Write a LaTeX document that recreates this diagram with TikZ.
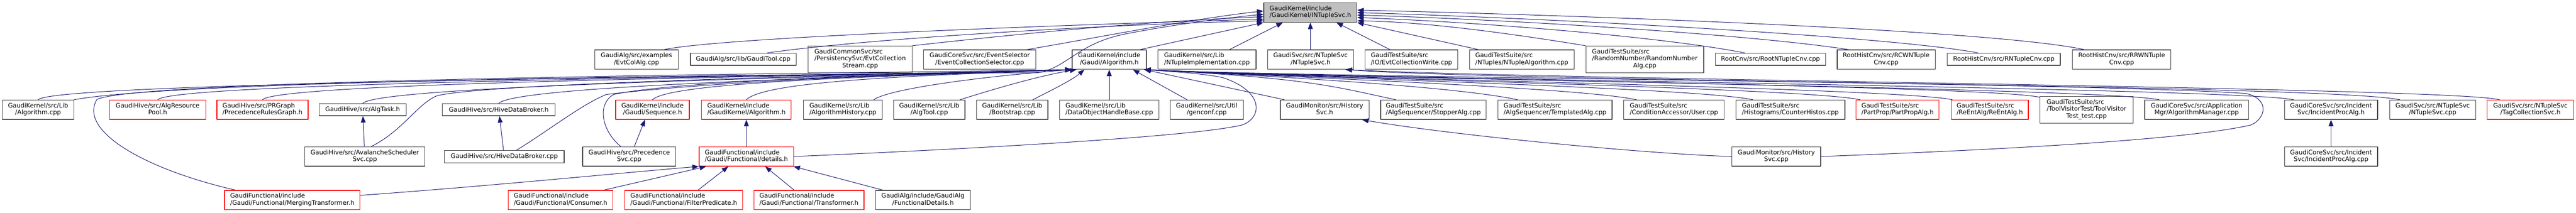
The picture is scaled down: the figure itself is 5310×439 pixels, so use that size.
\documentclass[tikz,border=0pt]{standalone}
\usepackage{fontspec}
\setmainfont{DejaVu Sans}
\usetikzlibrary{arrows.meta}
\definecolor{edgecol}{HTML}{191970}
\definecolor{rootfill}{HTML}{BFBFBF}
\newcommand{\lbtwo}[2]{\begin{tabular}{@{}l@{}}#1\\\multicolumn{1}{@{}c@{}}{#2}\end{tabular}}
\newcommand{\lbthree}[3]{\begin{tabular}{@{}l@{}}#1\\#2\\\multicolumn{1}{@{}c@{}}{#3}\end{tabular}}
\begin{document}
\begin{tikzpicture}[x=0.75pt, y=-0.75pt, >={Triangle[length=10pt,width=7.5pt]}, line join=round,
	font=\fontsize{9.6}{10.5}\selectfont,
	nd/.style={draw=black!75, line width=1pt, fill=white, inner sep=0pt},
	rednd/.style={nd, draw=red},
	rootnd/.style={nd, fill=rootfill},
	bw/.style={minimum width=#1*0.75pt},
	hone/.style={minimum height=18.75pt},
	htwo/.style={minimum height=30pt},
	hthree/.style={minimum height=41.25pt},
	edge/.style={->, draw=edgecol, line width=0.8pt}]
	\useasboundingbox (0,0) rectangle (5310,439);
	\node[rootnd, bw=192, htwo] (intuple) at (2701,26) {\lbtwo{GaudiKernel/include}{/GaudiKernel/INTupleSvc.h}};
	% row 1
	\node[nd, bw=172, htwo] (evtcolalg) at (1312,123) {\lbtwo{GaudiAlg/src/examples}{/EvtColAlg.cpp}};
	\node[nd, bw=218, hone] (gauditool) at (1532,122.5) {GaudiAlg/src/lib/GaudiTool.cpp};
	\node[nd, bw=214, hthree] (evtcolstream) at (1773,122.5) {\lbthree{GaudiCommonSvc/src}{/PersistencySvc/EvtCollection}{Stream.cpp}};
	\node[nd, bw=231, htwo] (evtcolsel) at (2019.5,123) {\lbtwo{GaudiCoreSvc/src/EventSelector}{/EventCollectionSelector.cpp}};
	\node[nd, bw=153, htwo] (galgh) at (2286.5,123) {\lbtwo{GaudiKernel/include}{/Gaudi/Algorithm.h}};
	\node[nd, bw=202, htwo] (ntupleimpl) at (2488,123) {\lbtwo{GaudiKernel/src/Lib}{/NTupleImplementation.cpp}};
	\node[nd, bw=177, htwo] (ntuplesvch) at (2701.5,123) {\lbtwo{GaudiSvc/src/NTupleSvc}{/NTupleSvc.h}};
	\node[nd, bw=191, htwo] (evtcolwrite) at (2909.5,123) {\lbtwo{GaudiTestSuite/src}{/IO/EvtCollectionWrite.cpp}};
	\node[nd, bw=216, htwo] (ntuplealg) at (3137,123) {\lbtwo{GaudiTestSuite/src}{/NTuples/NTupleAlgorithm.cpp}};
	\node[nd, bw=243, hthree] (randnum) at (3390.5,122.5) {\lbthree{GaudiTestSuite/src}{/RandomNumber/RandomNumber}{Alg.cpp}};
	\node[nd, bw=227, hone] (rootntcnv) at (3649.5,122.5) {RootCnv/src/RootNTupleCnv.cpp};
	\node[nd, bw=202, htwo] (rcwnt) at (3888,123) {\lbtwo{RootHistCnv/src/RCWNTuple}{Cnv.cpp}};
	\node[nd, bw=233, hone] (rntcnv) at (4130.5,122.5) {RootHistCnv/src/RNTupleCnv.cpp};
	\node[nd, bw=203, htwo] (rrwnt) at (4373.5,123) {\lbtwo{RootHistCnv/src/RRWNTuple}{Cnv.cpp}};
	% row 2
	\node[nd, bw=147, htwo] (algcpp) at (78.5,226.5) {\lbtwo{GaudiKernel/src/Lib}{/Algorithm.cpp}};
	\node[rednd, bw=198, htwo] (resourcepool) at (325,226.5) {\lbtwo{GaudiHive/src/AlgResource}{Pool.h}};
	\node[rednd, bw=188, htwo] (prgraph) at (541,226.5) {\lbtwo{GaudiHive/src/PRGraph}{/PrecedenceRulesGraph.h}};
	\node[nd, bw=179, hone] (algtask) at (747.5,226.5) {GaudiHive/src/AlgTask.h};
	\node[nd, bw=232, hone] (hdbh) at (1028,226.5) {GaudiHive/src/HiveDataBroker.h};
	\node[rednd, bw=152, htwo] (sequence) at (1345,226.5) {\lbtwo{GaudiKernel/include}{/Gaudi/Sequence.h}};
	\node[rednd, bw=185, htwo] (gkalgh) at (1538.5,226.5) {\lbtwo{GaudiKernel/include}{/GaudiKernel/Algorithm.h}};
	\node[nd, bw=163, htwo] (alghist) at (1737.5,226.5) {\lbtwo{GaudiKernel/src/Lib}{/AlgorithmHistory.cpp}};
	\node[nd, bw=147, htwo] (algtool) at (1915.5,226.5) {\lbtwo{GaudiKernel/src/Lib}{/AlgTool.cpp}};
	\node[nd, bw=147, htwo] (bootstrap) at (2086.5,226.5) {\lbtwo{GaudiKernel/src/Lib}{/Bootstrap.cpp}};
	\node[nd, bw=205, htwo] (dohbase) at (2286.5,226.5) {\lbtwo{GaudiKernel/src/Lib}{/DataObjectHandleBase.cpp}};
	\node[nd, bw=151, htwo] (genconf) at (2487.5,226.5) {\lbtwo{GaudiKernel/src/Util}{/genconf.cpp}};
	\node[nd, bw=183, htwo] (histsvch) at (2730.5,226.5) {\lbtwo{GaudiMonitor/src/History}{Svc.h}};
	\node[nd, bw=217, htwo] (stopper) at (2954.5,226.5) {\lbtwo{GaudiTestSuite/src}{/AlgSequencer/StopperAlg.cpp}};
	\node[nd, bw=235, htwo] (templated) at (3205.5,226.5) {\lbtwo{GaudiTestSuite/src}{/AlgSequencer/TemplatedAlg.cpp}};
	\node[nd, bw=207, htwo] (user) at (3450.5,226.5) {\lbtwo{GaudiTestSuite/src}{/ConditionAccessor/User.cpp}};
	\node[nd, bw=225, htwo] (counterhistos) at (3690.5,226.5) {\lbtwo{GaudiTestSuite/src}{/Histograms/CounterHistos.cpp}};
	\node[rednd, bw=171, htwo] (partprop) at (3911.5,226.5) {\lbtwo{GaudiTestSuite/src}{/PartProp/PartPropAlg.h}};
	\node[rednd, bw=159, htwo] (reent) at (4101.5,226.5) {\lbtwo{GaudiTestSuite/src}{/ReEntAlg/ReEntAlg.h}};
	\node[nd, bw=192, hthree] (toolvisitor) at (4301,226.5) {\lbthree{GaudiTestSuite/src}{/ToolVisitorTest/ToolVisitor}{Test\_test.cpp}};
	\node[nd, bw=214, htwo] (algmgr) at (4528,226.5) {\lbtwo{GaudiCoreSvc/src/Application}{Mgr/AlgorithmManager.cpp}};
	\node[nd, bw=192, htwo] (incproch) at (4805,226.5) {\lbtwo{GaudiCoreSvc/src/Incident}{Svc/IncidentProcAlg.h}};
	\node[nd, bw=177, htwo] (ntuplesvccpp) at (5014.5,226.5) {\lbtwo{GaudiSvc/src/NTupleSvc}{/NTupleSvc.cpp}};
	\node[rednd, bw=178, htwo] (tagcoll) at (5216,226.5) {\lbtwo{GaudiSvc/src/NTupleSvc}{/TagCollectionSvc.h}};
	% row 3
	\node[nd, bw=248, htwo] (avalanche) at (752,323) {\lbtwo{GaudiHive/src/AvalancheScheduler}{Svc.cpp}};
	\node[nd, bw=247, hone] (hdbcpp) at (1039.5,323.5) {GaudiHive/src/HiveDataBroker.cpp};
	\node[nd, bw=192, htwo] (precsvc) at (1297,323) {\lbtwo{GaudiHive/src/Precedence}{Svc.cpp}};
	\node[rednd, bw=195, htwo] (details) at (1538.5,323) {\lbtwo{GaudiFunctional/include}{/Gaudi/Functional/details.h}};
	\node[nd, bw=183, htwo] (histsvccpp) at (3661.5,323) {\lbtwo{GaudiMonitor/src/History}{Svc.cpp}};
	\node[nd, bw=192, htwo] (incproccpp) at (4805,323) {\lbtwo{GaudiCoreSvc/src/Incident}{Svc/IncidentProcAlg.cpp}};
	% row 4
	\node[rednd, bw=279, htwo] (merging) at (602.5,413) {\lbtwo{GaudiFunctional/include}{/Gaudi/Functional/MergingTransformer.h}};
	\node[rednd, bw=215, htwo] (consumer) at (1155.5,413) {\lbtwo{GaudiFunctional/include}{/Gaudi/Functional/Consumer.h}};
	\node[rednd, bw=243, htwo] (filterpred) at (1409.5,413) {\lbtwo{GaudiFunctional/include}{/Gaudi/Functional/FilterPredicate.h}};
	\node[rednd, bw=227, htwo] (transformer) at (1667.5,413) {\lbtwo{GaudiFunctional/include}{/Gaudi/Functional/Transformer.h}};
	\node[nd, bw=195, htwo] (funcdetails) at (1902.5,413) {\lbtwo{GaudiAlg/include/GaudiAlg}{/FunctionalDetails.h}};
	% edges into INTupleSvc.h
	\draw[edge] (evtcolalg.20) .. controls (1500,75) and (2300,48) .. (intuple.-172);
	\draw[edge] (gauditool.15) .. controls (1800,78) and (2300,50) .. (intuple.-170);
	\draw[edge] (evtcolstream.north east) .. controls (2100,70) and (2350,45) .. (intuple.-175);
	\draw[edge] (evtcolsel.12) .. controls (2250,80) and (2450,40) .. (intuple.178);
	\draw[edge] (algcpp.north east) .. controls (400,160) and (1900,152) .. (2140,150) .. controls (2200,140) and (2220,90) .. (2320,70) .. controls (2450,45) and (2550,35) .. (intuple.-178);
	\draw[edge] (galgh.18) -- (intuple.-168);
	\draw[edge] (ntupleimpl.24) -- (intuple.-160);
	\draw[edge] (ntuplesvch) -- (intuple);
	\draw[edge] (evtcolwrite.155) -- (intuple.-21);
	\draw[edge] (ntuplealg.167) -- (intuple.south east);
	\draw[edge] (randnum.north west) .. controls (3150,75) and (2950,45) .. (intuple.-10);
	\draw[edge] (rootntcnv.166) .. controls (3450,80) and (3100,48) .. (intuple.-6);
	\draw[edge] (rcwnt.165) .. controls (3600,70) and (3100,40) .. (intuple.-3);
	\draw[edge] (rntcnv.166) .. controls (3900,75) and (3200,38) .. (intuple.0);
	\draw[edge] (rrwnt.165) .. controls (4100,60) and (3200,30) .. (intuple.3);
	% edges into Gaudi/Algorithm.h
	\foreach \n in {algcpp,resourcepool,prgraph,algtask,hdbh,sequence,gkalgh}
		\draw[edge] (\n.north) .. controls +(40,-40) and +(-300,12) .. (galgh.south west);
	\draw[edge] (alghist.18) .. controls (1830,185) and (2000,160) .. (galgh.-165);
	\draw[edge] (algtool.18) .. controls (2060,180) and (2150,155) .. (galgh.-163);
	\draw[edge] (bootstrap.26) .. controls (2170,185) and (2210,165) .. (galgh.-158);
	\draw[edge] (avalanche.57) .. controls (830,270) and (860,215) .. (900,198) .. controls (1000,170) and (1900,152) .. (galgh.south west);
	\draw[edge] (hdbcpp.28) .. controls (1130,270) and (1200,215) .. (1250,195) .. controls (1500,165) and (1950,150) .. (galgh.south west);
	\draw[edge] (precsvc.130) .. controls (1240,270) and (1230,215) .. (1265,195) .. controls (1400,165) and (1950,150) .. (galgh.south west);
	\draw[edge] (merging.170) .. controls (300,350) and (160,270) .. (200,205) .. controls (300,160) and (1900,150) .. (galgh.south west);
	\draw[edge] (dohbase) -- (galgh);
	\draw[edge] (genconf.153) -- (galgh.-23);
	\draw[edge] (histsvch.166) -- (galgh.-16);
	\foreach \n in {stopper,templated,user,counterhistos,partprop,reent,toolvisitor,algmgr,incproch}
		\draw[edge] (\n.165) .. controls +(-120,-25) and +(350,18) .. (galgh.-16);
	\draw[edge] (details.east) .. controls (1900,312) and (2450,285) .. (2560,258) .. controls (2600,245) and (2610,190) .. (2520,160) .. controls (2470,150) and (2400,147) .. (galgh.-16);
	\draw[edge] (histsvccpp.east) .. controls (4100,310) and (4500,290) .. (4640,258) .. controls (4670,245) and (4680,205) .. (4630,193) .. controls (4300,170) and (2700,160) .. (galgh.-16);
	% remaining edges
	\draw[edge] (avalanche) -- (algtask);
	\draw[edge] (hdbcpp) -- (hdbh);
	\draw[edge] (precsvc.63) -- (sequence.-127);
	\draw[edge] (details) -- (gkalgh);
	\draw[edge] (merging.4) .. controls (1000,385) and (1300,355) .. (details.south west);
	\draw[edge] (consumer.13) -- (details.-166);
	\draw[edge] (filterpred.35) -- (details.-151);
	\draw[edge] (transformer.146) -- (details.-28);
	\draw[edge] (funcdetails.166) -- (details.-12);
	\draw[edge] (histsvccpp.west) .. controls (3400,318) and (3000,280) .. (histsvch.-15);
	\draw[edge] (incproccpp) -- (incproch);
	\draw[edge] (ntuplesvccpp.163) .. controls (4800,175) and (3100,168) .. (ntuplesvch.-16);
	\draw[edge] (tagcoll.162) .. controls (5050,180) and (3200,165) .. (ntuplesvch.-16);
\end{tikzpicture}
\end{document}
